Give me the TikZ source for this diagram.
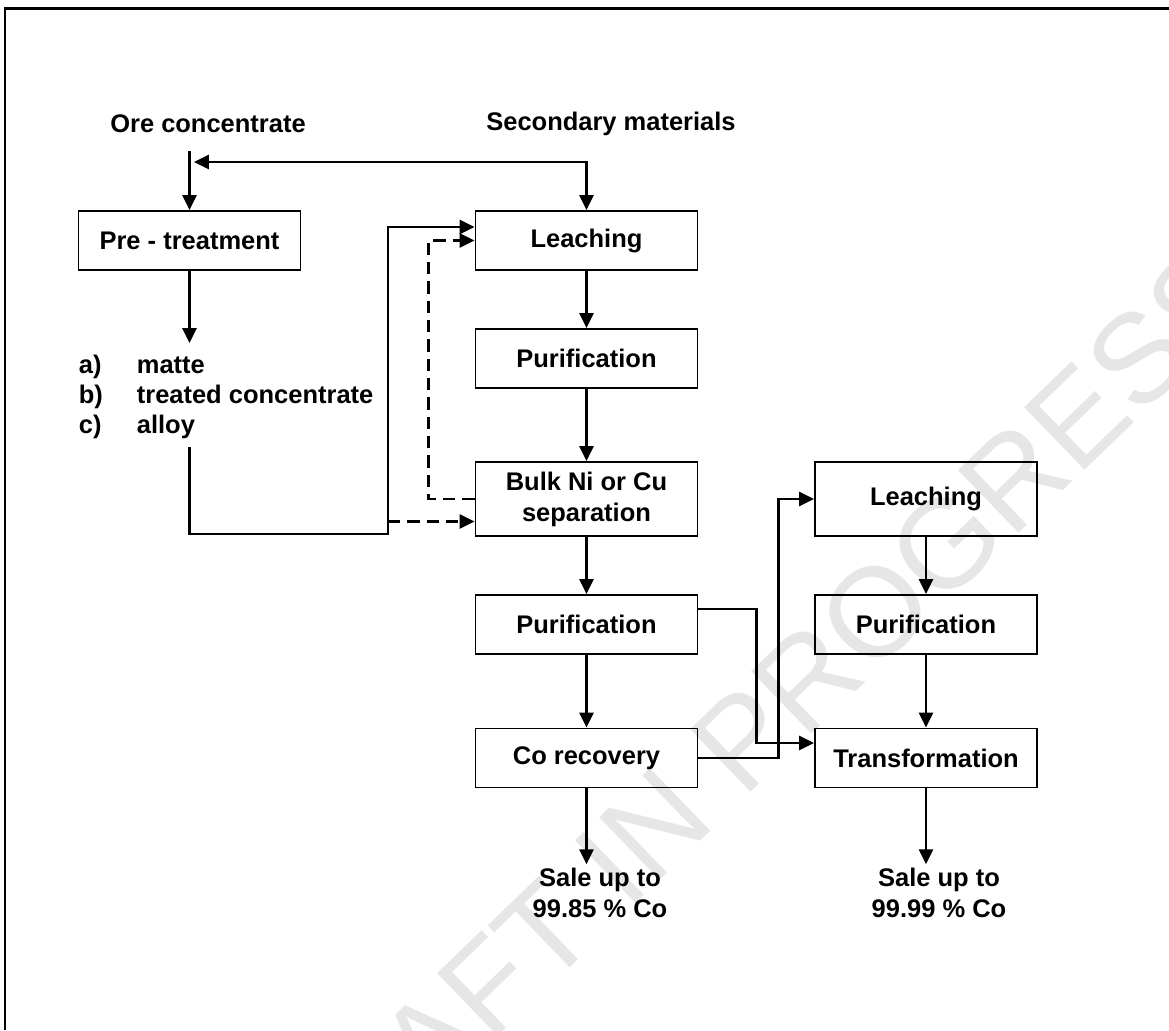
\documentclass[tikz,border=0pt]{standalone}
\usepackage{fontspec}
\setmainfont{Liberation Sans}
\usepackage{tikz}
\usetikzlibrary{arrows.meta, positioning, calc}
\definecolor{mydark}{RGB}{0,0,0}
\definecolor{mywater}{RGB}{230,230,230}
\tikzset{
  box/.style={rectangle, draw=mydark, minimum width=4.44cm, minimum height=1.18cm,
    align=center, font=\fontsize{14.5}{17.6}\selectfont\bfseries, line width=1.1pt,
    inner sep=2pt},
  tallbox/.style={box, minimum height=1.48cm},
  label/.style={align=center, font=\fontsize{14.5}{17.6}\selectfont\bfseries, inner sep=2pt},
  arrow/.style={-{Triangle[length=8.5pt, width=8pt]}, line width=1.5pt, color=mydark},
  dasharrow/.style={arrow, dash pattern=on 7pt off 4pt},
  line/.style={line width=1.5pt, color=mydark}
}

\begin{document}
\begin{tikzpicture}
  \useasboundingbox (0,0) rectangle (23.38,20.6);

  % Watermark
  \begin{scope}
    \clip (0,0) rectangle (23.38,20.6);
    \node[rotate=44, text=mywater, font=\fontsize{72}{72}\selectfont] (mark) at (14.98,5.92) {DRAFT IN PROGRESS};
  \end{scope}

  % Frame
  \draw[line width=1.7pt] (0.1,0) -- (0.1,20.42) -- (23.38,20.42);

  % Inputs
  \node[label] (ore) at (4.16,18.12) {Ore concentrate};
  \node[label] (sec) at (12.22,18.12) {Secondary materials};

  % Left branch
  \node[box] (pre) at (3.79,15.79) {Pre - treatment};
  \node[label, align=left, anchor=west, font=\fontsize{14.5}{17}\selectfont\bfseries] (prod) at (1.5,12.66)
    {\makebox[1.16cm][l]{a)}matte\\\makebox[1.16cm][l]{b)}treated concentrate\\\makebox[1.16cm][l]{c)}alloy};

  % Main line
  \node[box] (leach1) at (11.73,15.79) {Leaching};
  \node[box] (pur1) at (11.73,13.43) {Purification};
  \node[tallbox] (bulk) at (11.73,10.62) {Bulk Ni or Cu\\separation};
  \node[box] (pur2) at (11.73,8.11) {Purification};
  \node[box] (corec) at (11.73,5.44) {Co recovery};
  \node[label] (sale1) at (12.0,2.74) {Sale up to\\99.85 \% Co};

  % Refining line
  \node[tallbox] (leach2) at (18.52,10.62) {Leaching};
  \node[box] (pur3) at (18.52,8.11) {Purification};
  \node[box] (trans) at (18.52,5.44) {Transformation};
  \node[label] (sale2) at (18.78,2.74) {Sale up to\\99.99 \% Co};

  % Free ends
  \coordinate (orein) at (3.79,17.58);
  \coordinate (orejoin) at (3.88,17.36);
  \coordinate (prodin) at (3.79,13.74);
  \coordinate (alloy) at (3.79,11.66);
  \coordinate (feed) at (7.76,9.92);
  \coordinate (feedup) at (7.76,10.17);

  % Connectors
  \draw[arrow] (orein) -- (pre.north);
  \draw[{Triangle[length=8.5pt, width=8pt]}-{Triangle[length=8.5pt, width=8pt]}, line width=1.5pt]
    (leach1.north) |- (orejoin);
  \draw[arrow] (pre.south) -- (prodin);
  \draw[arrow] (alloy) |- (feed) |- ([yshift=0.27cm]leach1.west);
  \draw[dasharrow] (feedup) -- (feedup -| bulk.west);
  \draw[dasharrow] (bulk.west) -- ++(-0.92,0) |- (leach1.west);

  \draw[arrow] (leach1) -- (pur1);
  \draw[arrow] (pur1) -- (bulk);
  \draw[arrow] (bulk) -- (pur2);
  \draw[arrow] (pur2) -- (corec);
  \draw[arrow] (corec.south) -- (corec.south |- sale1.north);

  \draw[arrow] (leach2) -- (pur3);
  \draw[arrow] (pur3) -- (trans);
  \draw[arrow] (trans.south) -- (trans.south |- sale2.north);

  \draw[arrow] ([yshift=0.31cm]pur2.east) -- ++(1.16,0) |- ([yshift=0.3cm]trans.west);
  \draw[arrow] (corec.east) -- ++(1.6,0) |- (leach2.west);
\end{tikzpicture}
\end{document}
